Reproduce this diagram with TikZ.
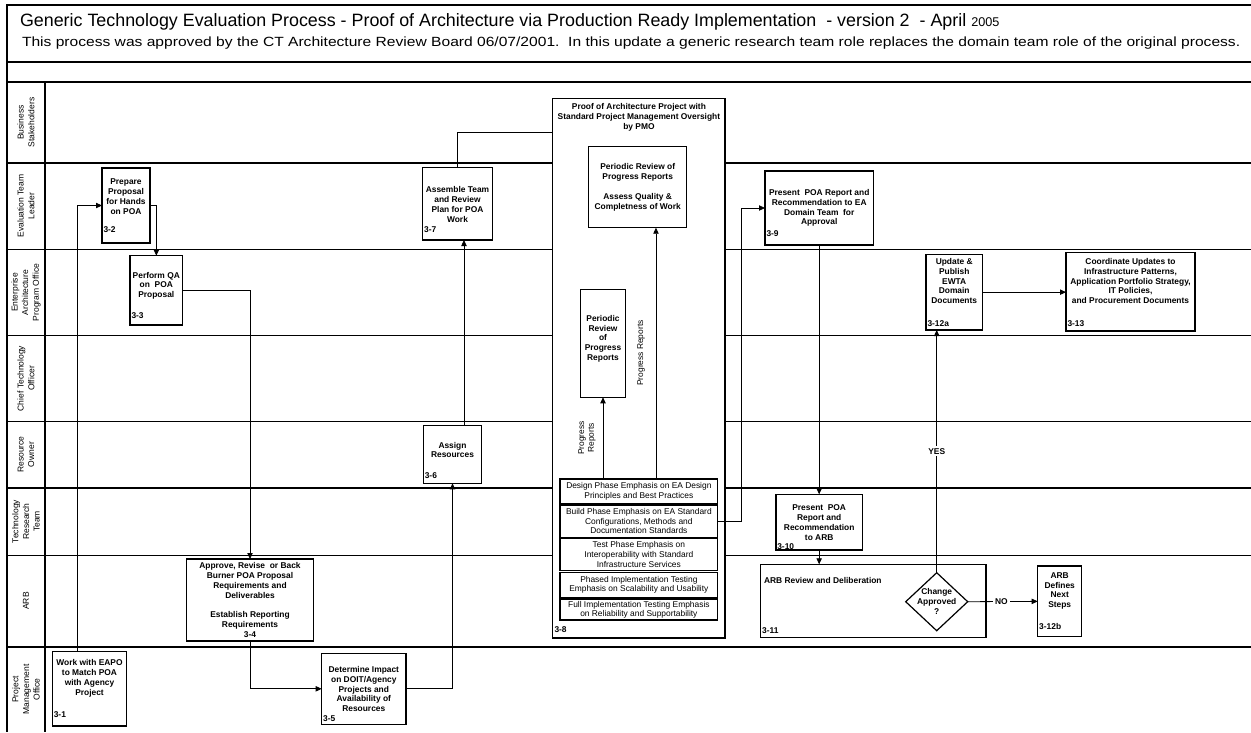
\documentclass[tikz,border=0pt]{standalone}
\usepackage{fontspec}
\setmainfont{Liberation Sans}
\newfontfamily\widesans[FakeStretch=1.17]{Liberation Sans}
\usetikzlibrary{arrows.meta,shapes.geometric,fit}

\begin{document}
\begin{tikzpicture}[x=0.75pt,y=-0.75pt,
  every node/.style={inner sep=0pt, outer sep=0pt},
  lane/.style={line width=0.8pt},
  box/.style={draw, line width=0.9pt, fill=white, inner sep=0pt},
  phase/.style={draw, line width=0.8pt, fill=white, inner sep=0pt},
  btxt/.style={font=\fontsize{6.3}{7.4}\selectfont\bfseries, align=center},
  ptxt/.style={font=\fontsize{6.3}{7.2}\selectfont, align=center},
  idl/.style={font=\fontsize{6.3}{7.4}\selectfont\bfseries, anchor=west},
  lanelbl/.style={font=\fontsize{6.4}{8}\selectfont, align=center, rotate=90},
  conn/.style={line width=0.6pt},
  arr/.style={conn, -{Triangle[length=4.5pt,width=4pt]}},
]
\useasboundingbox (0,0) rectangle (1251,732);

% frame, header and swimlanes
\draw[lane] (1251,5) -- (7,5) -- (7,732);
\foreach \yy in {62,82,163,249.5,335.5,421.5,488,555.5,647}
  \draw[lane] (7,\yy) -- (1251,\yy);
\draw[lane] (45,82) -- (45,732);

\node[anchor=base west, font=\fontsize{13.4}{15}\selectfont] (title) at (20,26)
  {Generic Technology Evaluation Process - Proof of Architecture via Production Ready Implementation\ \ - version 2\ \ - April {\fontsize{9.5}{10}\selectfont 2005}};
\node[anchor=base west, font=\widesans\fontsize{10}{11}\selectfont] (subtitle) at (22,46)
  {This process was approved by the CT Architecture Review Board 06/07/2001.\ \ In this update a generic research team role replaces the domain team role of the original process.};

% lane names
\node[lanelbl] (l1) at (26,122.5) {Business\\Stakeholders};
\node[lanelbl] (l2) at (26,206) {Evaluation Team\\Leader};
\node[lanelbl] (l3) at (26,292.5) {Enterprise\\Architecture\\Program Office};
\node[lanelbl] (l4) at (26,378.5) {Chief Technology\\Officer};
\node[lanelbl] (l5) at (26,454.5) {Resource\\Owner};
\node[lanelbl] (l6) at (26,521.5) {Technology\\Research\\Team};
\node[lanelbl] (l7) at (26,601) {ARB};
\node[lanelbl] (l8) at (26,689.5) {Project\\Management\\Office};

% project container 3-8
\node[box, fit={(552.7,98.3) (725,638)}] (b38) {};
\node[btxt] (b38t) at (638.9,117.4) {Proof of Architecture Project with\\Standard Project Management Oversight\\by PMO};
\node[idl] (b38i) at (554.5,630) {3-8};

\node[box, fit={(588.7,146.7) (686.7,227.7)}] (ib) {};
\node[btxt] (ibt) at (637.7,187.5) {Periodic Review of\\Progress Reports\\[7.4pt]Assess Quality \&\\Completness of Work};
\node[box, fit={(580.3,289.3) (625.7,397.3)}] (nb) {};
\node[btxt] (nbt) at (603,338.8) {Periodic\\Review\\of\\Progress\\Reports};

\node[phase, fit={(560,479) (717.7,504)}] (ph1) {};
\node[ptxt] (ph1t) at (638.85,491.5) {Design Phase Emphasis on EA Design\\Principles and Best Practices};
\node[phase, fit={(560,505) (717.7,537.3)}] (ph2) {};
\node[ptxt] (ph2t) at (638.85,521) {Build Phase Emphasis on EA Standard\\Configurations, Methods and\\Documentation Standards};
\node[phase, fit={(560,538) (717.7,570.7)}] (ph3) {};
\node[ptxt] (ph3t) at (638.85,554.5) {Test Phase Emphasis on\\Interoperability with Standard\\Infrastructure Services};
\node[phase, fit={(560,572.3) (717.7,597.3)}] (ph4) {};
\node[ptxt] (ph4t) at (638.85,585) {Phased Implementation Testing\\Emphasis on Scalability and Usability};
\node[phase, fit={(560,599) (717.7,620)}] (ph5) {};
\node[ptxt] (ph5t) at (638.85,610) {Full Implementation Testing Emphasis\\on Reliability and Supportability};

\node[ptxt, rotate=90] (pr1) at (587,438) {Progress\\Reports};
\node[ptxt, rotate=90] (pr2) at (641,353) {Progress Reports};

% process steps
\node[box, fit={(52.3,651.7) (126.7,726)}] (b31) {};
\node[btxt] (b31t) at (89.5,678.3) {Work with EAPO\\to Match POA\\with Agency\\Project};
\node[idl] (b31i) at (53.8,714.3) {3-1};

\node[box, fit={(102,168) (150,243)}] (b32) {};
\node[btxt] (b32t) at (126,196.5) {Prepare\\Proposal\\for Hands\\on POA};
\node[idl] (b32i) at (103.5,230) {3-2};

\node[box, fit={(130,255.7) (182.7,325)}] (b33) {};
\node[btxt] (b33t) at (156.3,285.7) {Perform QA\\on\ \ POA\\Proposal};
\node[idl] (b33i) at (131.5,316) {3-3};

\node[box, fit={(186.7,559) (313.3,641)}] (b34) {};
\node[btxt] (b34t) at (250,600) {Approve, Revise\ \ or Back\\Burner POA Proposal\\Requirements and\\Deliverables\\[7.4pt]Establish Reporting\\Requirements\\3-4};

\node[box, fit={(321.7,653.3) (406,724.3)}] (b35) {};
\node[btxt] (b35t) at (363.8,689) {Determine Impact\\on DOIT/Agency\\Projects and\\Availability of\\Resources};
\node[idl] (b35i) at (323.2,718.7) {3-5};

\node[box, fit={(423.3,425.7) (481.7,483.3)}] (b36) {};
\node[btxt] (b36t) at (452.5,450) {Assign\\Resources};
\node[idl] (b36i) at (424.8,475.3) {3-6};

\node[box, fit={(422.7,167.7) (492.3,240)}] (b37) {};
\node[btxt] (b37t) at (457.5,204.3) {Assemble Team\\and Review\\Plan for POA\\Work};
\node[idl] (b37i) at (424.2,229.3) {3-7};

\node[box, fit={(765,171) (873.3,245)}] (b39) {};
\node[btxt] (b39t) at (819.2,208) {Present\ \ POA Report and\\Recommendation to EA\\Domain Team\ \ for\\Approval};
\node[idl] (b39i) at (766.5,233.3) {3-9};

\node[box, fit={(776,494.3) (862.3,550)}] (b310) {};
\node[btxt] (b310t) at (819.2,522.7) {Present\ \ POA\\Report and\\Recommendation\\to ARB};
\node[idl] (b310i) at (777.3,546.5) {3-10};

\node[box, fit={(760.7,564.3) (986,637.3)}] (b311) {};
\node[btxt, anchor=west] (b311t) at (764,580) {ARB Review and Deliberation};
\node[idl] (b311i) at (762.2,631) {3-11};

\node[draw, diamond, line width=0.9pt, fill=white, minimum width=46.5pt, minimum height=43.5pt] (dia) at (936.7,601.7) {};
\node[btxt] (diat) at (936.7,601.5) {Change\\Approved\\?};

\node[box, fit={(1037.7,566) (1081.7,636.7)}] (b312b) {};
\node[btxt] (b312bt) at (1059.7,591) {ARB\\Defines\\Next\\Steps};
\node[idl] (b312bi) at (1039.2,626.7) {3-12b};

\node[box, fit={(926,254.3) (982.3,330)}] (b312a) {};
\node[btxt] (b312at) at (954.2,281) {Update \&\\Publish\\EWTA\\Domain\\Documents};
\node[idl] (b312ai) at (927.5,323.3) {3-12a};

\node[box, fit={(1066,252.3) (1195,331)}] (b313) {};
\node[btxt] (b313t) at (1130.5,281) {Coordinate Updates to\\Infrastructure Patterns,\\Application Portfolio Strategy,\\IT Policies,\\and Procurement Documents};
\node[idl] (b313i) at (1067.5,323.3) {3-13};

% connectors
\draw[arr] ([xshift=18.5pt]b31.north west) |- (b32.west);
\draw[arr] (b32.east) -| (b33.north);
\draw[arr] (b33.east) -| (b34.north);
\draw[arr] (b34.south) |- (b35.west);
\draw[arr] (b35.east) -| (b36.south);
\draw[arr] ([xshift=8.6pt]b36.north) -- ([xshift=8.6pt]b36.north |- b37.south);
\draw[conn] (b37.north) |- ([yshift=-25.5pt]b38.north west);
\draw[arr] (nb.south |- ph1.north) -- (nb.south);
\draw[arr] ([xshift=13.7pt]ib.south |- ph1.north) -- ([xshift=13.7pt]ib.south);
\draw[arr] (ph2.east) -- ++(24,0) |- (b39.west);
\draw[arr] (b39.south) -- (b310.north);
\draw[arr] (b310.south) -- (b310.south |- b311.north);
\draw[arr] (dia.north) -- (dia.north |- b312a.south)
  node[pos=0.5, fill=white, inner sep=1.5pt, font=\fontsize{6.3}{7.4}\selectfont\bfseries] (yes) {YES};
\draw[arr] (dia.east) -- (b312b.west)
  node[pos=0.48, fill=white, inner sep=1.5pt, font=\fontsize{6.3}{7.4}\selectfont\bfseries] (no) {NO};
\draw[arr] (b312a.east) -- (b312a.east -| b313.west);

\end{tikzpicture}
\end{document}
